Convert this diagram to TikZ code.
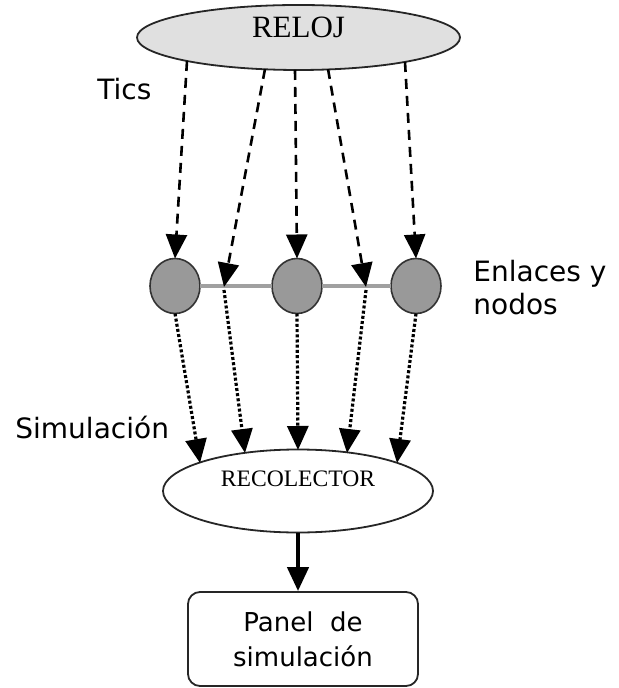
\documentclass[tikz,border=0pt]{standalone}
\usepackage{fontspec}
\setmainfont{Liberation Serif}
\newfontfamily\dvsans{DejaVu Sans}
\usetikzlibrary{arrows.meta,shapes.geometric}
\definecolor{relojfill}{HTML}{E0E0E0}
\definecolor{nodefill}{HTML}{999999}
\definecolor{linkgray}{HTML}{A0A0A0}
\begin{document}
\begin{tikzpicture}[x=0.5pt,y=-0.5pt,
  tipstyle/.style={-{Triangle[length=12pt,width=10.5pt]}},
  tickarrow/.style={tipstyle, line width=1.3pt, dash pattern=on 5pt off 3.5pt},
  simarrow/.style={tipstyle, line width=1.6pt, dash pattern=on 1.5pt off 1.1pt},
  bigell/.style={ellipse, draw=black!85, line width=0.9pt, inner sep=0pt, outer sep=0pt},
  netnode/.style={ellipse, draw=black!80, fill=nodefill, line width=0.8pt, minimum width=25pt, minimum height=27.5pt, inner sep=0pt, outer sep=0pt},
  lbl/.style={font=\dvsans\fontsize{14pt}{16.5pt}\selectfont, inner sep=0pt},
]
\useasboundingbox (0,0) rectangle (618,688);

% clock
\node[bigell, fill=relojfill, minimum width=161.5pt, minimum height=32.5pt] (reloj) at (298.5,37.5)
  {\fontsize{15.5pt}{18pt}\selectfont\raisebox{0pt}[0pt][0pt]{RELOJ}};

% network nodes
\node[netnode] (n1) at (175,286) {};
\node[netnode] (n2) at (297,286) {};
\node[netnode] (n3) at (416,286) {};
\draw[linkgray, line width=2.4pt] (n1.east) -- (n2.west);
\draw[linkgray, line width=2.4pt] (n2.east) -- (n3.west);
\coordinate (l1) at (224,287);
\coordinate (l2) at (366,287);

% collector
\node[bigell, fill=white, minimum width=135pt, minimum height=41.5pt] (recolector) at (298,491)
  {\fontsize{11.8pt}{14pt}\selectfont\raisebox{2.5pt}[0pt][0pt]{RECOLECTOR}};

% panel
\node[draw=black!85, line width=0.9pt, rounded corners=6pt, minimum width=115pt, minimum height=47pt,
  align=center, inner sep=0pt, font=\dvsans\fontsize{13pt}{17.5pt}\selectfont] (panel) at (303,639)
  {Panel~ de\\simulación};

% clock start points
\coordinate (r1) at (187,61);
\coordinate (r2) at (265,69);
\coordinate (r3) at (295,70);
\coordinate (r4) at (328,69);
\coordinate (r5) at (405,62);

% collector end points
\coordinate (c1) at (200,463);
\coordinate (c2) at (245,453);
\coordinate (c3) at (298,450);
\coordinate (c4) at (347,453);
\coordinate (c5) at (397,463);

% ticks
\draw[tickarrow] (r1) -- (n1.north);
\draw[tickarrow] (r2) -- (l1);
\draw[tickarrow] (r3) -- (n2.north);
\draw[tickarrow] (r4) -- (l2);
\draw[tickarrow] (r5) -- (n3.north);

% simulation
\draw[simarrow] (n1.south) -- (c1);
\draw[simarrow] ([yshift=-1.5pt]l1) -- (c2);
\draw[simarrow] (n2.south) -- (c3);
\draw[simarrow] ([yshift=-1.5pt]l2) -- (c4);
\draw[simarrow] (n3.south) -- (c5);

% to panel
\draw[line width=2.2pt, -{Triangle[length=12pt,width=10.5pt]}] (recolector.south) -- (recolector.south |- panel.north);

% labels
\node[lbl, anchor=base west] (tics) at (97,100) {Tics};
\node[lbl, anchor=west, align=left] (enlaces) at (473,288) {Enlaces y\\nodos};
\node[lbl, anchor=base west] (simul) at (15,438) {Simulación};
\end{tikzpicture}
\end{document}
